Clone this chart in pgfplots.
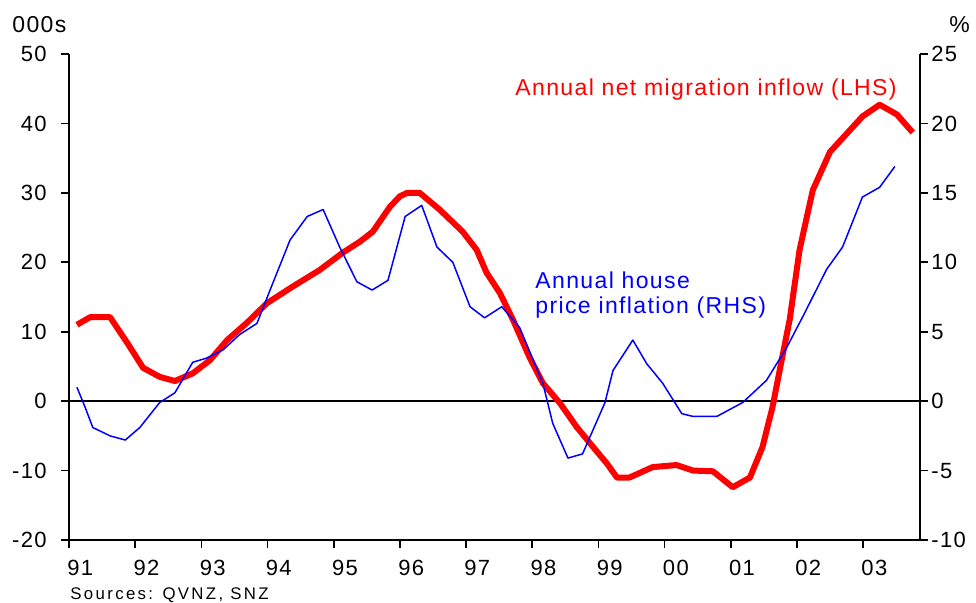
\documentclass[border=0pt]{standalone}
\usepackage{fontspec}
\setmainfont{Liberation Sans}[LetterSpace=6]
\usepackage{pgfplots}
\pgfplotsset{compat=1.18}
\definecolor{myred}{RGB}{255,0,0}
\definecolor{myblue}{RGB}{0,0,255}
\begin{document}
\begin{tikzpicture}[x=1pt,y=1pt]
\useasboundingbox (0,0) rectangle (488,301);
\pgfplotsset{common/.style={
  at={(34.5pt,31pt)}, anchor=south west,
  scale only axis, width=425.5pt, height=243pt,
  xmin=0, xmax=12.86,
  axis line style={-, line width=1pt},
  tick align=outside, major tick length=4pt,
  tick style={black, line width=0.8pt},
  ticklabel style={font=\fontsize{11}{13}\selectfont},
}}
\begin{axis}[common,
  ymin=-20, ymax=50,
  axis x line*=bottom, axis y line*=left,
  xtick={0,...,12}, xticklabels={91,92,93,94,95,96,97,98,99,00,01,02,03},
  ytick={-20,-10,0,10,20,30,40,50}, yticklabels={-20,-10,0,10,20,30,40,50},
  xticklabel style={anchor=north west, inner sep=0pt, yshift=-6pt, xshift=-1pt},
  yticklabel style={anchor=east, inner sep=0pt, xshift=-7pt},
]
\addplot[black, line width=0.8pt, forget plot] coordinates {(0,0) (12.86,0)};
\addplot[myred, line width=3pt, line join=round] coordinates {
(0.12,11.0) (0.32,12.1) (0.62,12.1) (0.88,8.4) (1.12,4.8) (1.37,3.5) (1.60,2.9)
(1.87,4.0) (2.13,5.9) (2.39,8.8) (2.69,11.3) (2.99,14.1) (3.38,16.5) (3.79,18.9)
(4.14,21.4) (4.40,23.0) (4.59,24.4) (4.85,28.0) (5.00,29.5) (5.11,30.0) (5.30,30.0) (5.60,27.6)
(5.95,24.4) (6.16,21.8) (6.31,18.5) (6.51,15.6) (6.71,11.7) (6.96,6.3) (7.16,2.6)
(7.42,-0.3) (7.67,-3.7) (7.92,-6.6) (8.13,-9.0) (8.28,-11.0) (8.47,-11.0) (8.82,-9.5)
(9.18,-9.2) (9.43,-10.0) (9.73,-10.1) (10.03,-12.4) (10.29,-11.0) (10.48,-6.6)
(10.63,-0.9) (10.79,6.9) (10.89,11.7) (11.04,21.8) (11.24,30.4) (11.50,35.9)
(11.99,41.0) (12.25,42.7) (12.51,41.3) (12.75,38.7)
};
\end{axis}
\begin{axis}[common,
  ymin=-10, ymax=25,
  axis x line=none, axis y line*=right,
  ytick={-10,-5,0,5,10,15,20,25}, yticklabels={-10,-5,0,5,10,15,20,25},
  yticklabel style={anchor=west, inner sep=0pt, xshift=1.5pt},
]
\addplot[myblue, line width=0.75pt, line join=round] coordinates {
(0.12,1.0) (0.24,-0.4) (0.36,-1.9) (0.62,-2.5) (0.85,-2.8) (1.07,-1.9) (1.37,-0.1)
(1.60,0.6) (1.87,2.8) (2.08,3.1) (2.33,3.7) (2.58,4.8) (2.84,5.6) (3.08,8.5)
(3.34,11.6) (3.60,13.3) (3.84,13.8) (4.09,11.1) (4.35,8.6) (4.58,8.0) (4.82,8.7)
(5.08,13.3) (5.33,14.1) (5.56,11.1) (5.80,10.0) (6.06,6.8) (6.28,6.0) (6.54,6.8)
(6.81,5.3) (7.16,1.3) (7.31,-1.6) (7.54,-4.1) (7.76,-3.8) (7.87,-2.6) (8.10,-0.1)
(8.22,2.2) (8.52,4.4) (8.73,2.7) (8.97,1.3) (9.26,-0.9) (9.43,-1.1) (9.79,-1.1)
(10.18,-0.1) (10.54,1.5) (10.85,3.9) (11.09,6.1) (11.45,9.5) (11.69,11.1)
(11.99,14.7) (12.25,15.4) (12.48,16.9)
};
\end{axis}
\node[anchor=base west, inner sep=0pt, font=\fontsize{11.5}{13}\selectfont] at (6,285) {000s};
\node[anchor=base west, inner sep=0pt, font=\fontsize{11.5}{13}\selectfont] at (474.5,285) {\%};
\node[anchor=base west, inner sep=0pt, text=myred, font=\fontsize{11.5}{13}\selectfont] at (257.5,253.5) {Annual net migration inflow (LHS)};
\node[anchor=base west, inner sep=0pt, text=myblue, font=\fontsize{11.5}{13}\selectfont] at (267.5,157) {Annual house};
\node[anchor=base west, inner sep=0pt, text=myblue, font=\fontsize{11.5}{13}\selectfont] at (267.5,144.5) {price inflation (RHS)};
\node[anchor=base west, inner sep=0pt, font=\fontsize{8.4}{10}\selectfont\addfontfeatures{LetterSpace=14}] at (35,1.5) {Sources: QVNZ, SNZ};
\end{tikzpicture}
\end{document}
